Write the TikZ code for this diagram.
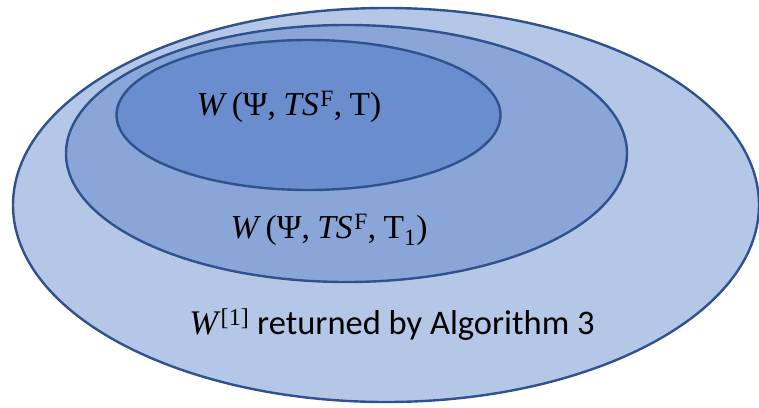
\documentclass[tikz,border=0pt]{standalone}
\usepackage{fontspec}
\setmainfont{Carlito}
\newfontfamily\mathser{Liberation Serif}
\newcommand{\mW}{\textit{W}\kern0.14em}
\newcommand{\mc}{,\kern0.22em}
\begin{document}
\begin{tikzpicture}[x=1pt,y=-1pt,
  ring/.style={draw=edgeblue,line width=2.4pt},
  mlbl/.style={inner sep=0pt,font=\fontsize{33.5}{38}\mathser},
  tlbl/.style={inner sep=0pt,font=\fontsize{34.5}{40}\selectfont}]
\definecolor{edgeblue}{HTML}{2F528F}
\definecolor{fillA}{HTML}{B4C7E7}
\definecolor{fillB}{HTML}{8AA6D8}
\definecolor{fillC}{HTML}{6A8DCE}
\useasboundingbox (0,0) rectangle (759,407);
\draw[ring,fill=fillA] (386,205) ellipse [x radius=373, y radius=197];
\draw[ring,fill=fillB] (346.5,153.5) ellipse [x radius=280.5, y radius=128.5];
\draw[ring,fill=fillC] (308.5,115) ellipse [x radius=192, y radius=75];
\node[mlbl] (tin) at (289,107) {\mW(Ψ\mc\textit{TS}\kern0.05em\textsuperscript{F}\mc T)};
\node[mlbl] (tmid) at (329,230) {\mW(Ψ\mc\textit{TS}\kern0.05em\textsuperscript{F}\mc T\textsubscript{1})};
\node[tlbl] (tout) at (392,325) {{\mathser\textit{W}\textsuperscript{[1]}} returned by Algorithm 3};
\end{tikzpicture}
\end{document}
